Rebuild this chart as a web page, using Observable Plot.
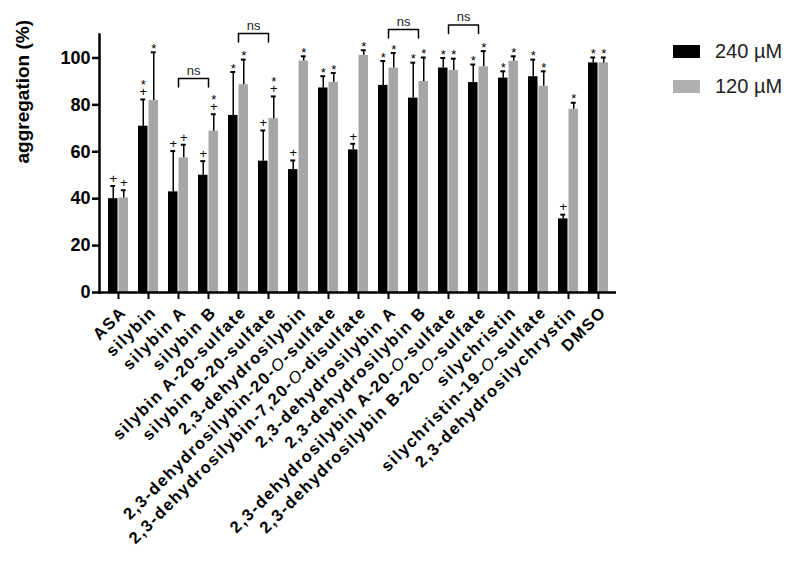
<!DOCTYPE html>
<html><head><meta charset="utf-8">
<script src="https://cdn.jsdelivr.net/npm/d3@7"></script>
<script src="https://cdn.jsdelivr.net/npm/@observablehq/plot@0.6"></script>
<style>
body{margin:0;background:#fff;}
#wrap{position:relative;width:798px;height:562px;font-family:"Liberation Sans",Arial,Helvetica,sans-serif;}
.legend{position:absolute;left:673px;top:41px;font-size:20px;color:#222;}
.item{display:flex;align-items:center;height:21px;margin-bottom:14px;}
.sw{width:27px;height:13px;margin-right:15px;}
</style></head><body><div id="wrap"></div>
<script>
const compounds = ["ASA","silybin","silybin A","silybin B","silybin A-20-sulfate","silybin B-20-sulfate",
  "2,3-dehydrosilybin","2,3-dehydrosilybin-20-O-sulfate","2,3-dehydrosilybin-7,20-O-disulfate",
  "2,3-dehydrosilybin A","2,3-dehydrosilybin B","2,3-dehydrosilybin A-20-O-sulfate",
  "2,3-dehydrosilybin B-20-O-sulfate","silychristin","silychristin-19-O-sulfate",
  "2,3-dehydrosilychrystin","DMSO"];
const series = ["240 µM","120 µM"];
const colors = ["#000000","#a6a6a8"];
const mean240 = [40.0,70.9,42.9,50.0,75.5,56.0,52.4,87.2,60.8,88.3,82.9,95.7,89.5,91.4,92.0,31.4,97.9];
const top240  = [45.4,82.3,60.3,56.0,94.0,69.1,56.3,92.2,63.4,98.7,98.0,100.0,97.2,94.3,99.3,33.2,100.2];
const sig240  = ["+","*+","+","+","*","+","+","*","+","*","*","*","*","*","*","+","*"];
const mean120 = [40.3,81.9,57.4,68.8,88.6,74.1,98.7,89.6,101.1,95.7,90.0,94.7,96.2,98.6,87.9,78.1,97.9];
const top120  = [43.6,102.4,63.0,76.0,99.3,83.6,100.7,93.6,103.3,102.1,100.2,99.7,102.9,100.7,94.3,80.9,100.2];
const sig120  = ["+","*","+","*+","*","*+","*","*","*","*","*","*","*","*","*","*","*"];
const yTicks = [0,20,40,60,80,100];
const bracketFrom = ["silybin A","silybin A-20-sulfate","2,3-dehydrosilybin A","2,3-dehydrosilybin A-20-O-sulfate"];
const bracketTo   = ["silybin B","silybin B-20-sulfate","2,3-dehydrosilybin B","2,3-dehydrosilybin B-20-O-sulfate"];
const bracketY    = [91.2,110.4,112.1,114.0];
const bracketLabel = "ns";
const yLabel = "aggregation (%)";

const rows = compounds.map((c,i)=>({compound:c, v240:mean240[i], e240:top240[i], s240:sig240[i],
  v120:mean120[i], e120:top120[i], s120:sig120[i]}));
const brackets = bracketFrom.map((f,i)=>({id:i, from:f, to:bracketTo[i], y:bracketY[i]}));
const bracketPts = brackets.flatMap(b=>[
  {id:b.id, x:b.from, y:b.y-3.6},{id:b.id, x:b.from, y:b.y},{id:b.id, x:b.to, y:b.y},{id:b.id, x:b.to, y:b.y-3.6}]);

// one row per significance symbol
const markers = [];
rows.forEach(r=>{
  [["s240","e240",-1],["s120","e120",1]].forEach(([sk,ek,side])=>{
    const s = r[sk];
    if (s.includes("+")) markers.push({compound:r.compound, y:r[ek], sym:"+", side, stacked:false});
    if (s.includes("*")) markers.push({compound:r.compound, y:r[ek], sym:"*", side, stacked:s.includes("+")});
  });
});

const D = 5.25;
const symMarks = [-1,1].flatMap(side=>[
  Plot.text(markers.filter(m=>m.side===side && m.sym==="+"),
    {x:"compound", y:"y", text:"sym", dx:side*D, dy:-3.2, lineAnchor:"bottom", fontSize:13, fill:"black"}),
  Plot.text(markers.filter(m=>m.side===side && m.sym==="*" && !m.stacked),
    {x:"compound", y:"y", text:"sym", dx:side*D, dy:0.6, lineAnchor:"bottom", fontSize:13, fill:"black"}),
  Plot.text(markers.filter(m=>m.side===side && m.sym==="*" && m.stacked),
    {x:"compound", y:"y", text:"sym", dx:side*D, dy:-10.1, lineAnchor:"bottom", fontSize:13, fill:"black"})
]);

const chart = Plot.plot({
  width:798, height:562, marginLeft:99, marginRight:182, marginTop:34, marginBottom:270,
  style:{fontFamily:"'Liberation Sans', Arial, Helvetica, sans-serif", background:"white", color:"black", overflow:"visible"},
  x:{domain:compounds, paddingInner:0.34, paddingOuter:0.16},
  y:{domain:[0,110]},
  marks:[
    Plot.barY(rows,{x:"compound", y:"v240", fill:colors[0], insetRight:10.5}),
    Plot.barY(rows,{x:"compound", y:"v120", fill:colors[1], insetLeft:10.5}),
    Plot.ruleX(rows,{x:"compound", y1:"v240", y2:"e240", dx:-D, stroke:"black", strokeWidth:1.5}),
    Plot.ruleX(rows,{x:"compound", y1:"v120", y2:"e120", dx:D, stroke:"black", strokeWidth:1.5}),
    Plot.tickY(rows,{x:"compound", y:"e240", insetLeft:2.3, insetRight:12.8, stroke:"black", strokeWidth:2}),
    Plot.tickY(rows,{x:"compound", y:"e120", insetLeft:12.8, insetRight:2.3, stroke:"black", strokeWidth:2}),
    ...symMarks,
    Plot.line(bracketPts,{x:"x", y:"y", z:"id", stroke:"black", strokeWidth:1.5, curve:"linear"}),
    Plot.text(brackets,{x:"from", y:"y", text:()=>bracketLabel, dx:15.2, dy:-4, lineAnchor:"bottom", fontSize:13, fill:"#222"}),
    Plot.ruleY([0],{stroke:"black", strokeWidth:2.5}),
    Plot.axisX({tickSize:7, tickFormat:()=>"", label:null, strokeWidth:2}),
    Plot.axisX({tickRotate:-45, tickSize:0, tickPadding:17, dx:5, fontSize:16.5, fontWeight:"bold", label:null}),
    Plot.axisY({ticks:yTicks, tickSize:7, tickPadding:2, fontSize:18, fontWeight:"bold", label:null, strokeWidth:2.5}),
    Plot.frame({anchor:"left", stroke:"black", strokeWidth:2.5}),
    Plot.text([yLabel],{frameAnchor:"left", rotate:-90, dx:-77, fontSize:19, fontWeight:"bold", fill:"black"})
  ]
});

const NS = "http://www.w3.org/2000/svg";
chart.querySelectorAll('g[aria-label="x-axis tick label"] text').forEach(t=>{
  const s = t.textContent;
  if (s === "") return;
  t.setAttribute("letter-spacing","1.5");
  if (!s.includes("-O-")) return;
  const [a,b] = s.split("-O-");
  t.textContent = "";
  t.append(a+"-");
  const ts = document.createElementNS(NS,"tspan");
  ts.setAttribute("font-style","italic");
  ts.setAttribute("font-weight","normal");
  ts.textContent = "O";
  t.append(ts);
  t.append("-"+b);
});

const wrap = document.getElementById("wrap");
wrap.append(chart);
const legend = document.createElement("div");
legend.className = "legend";
series.forEach((s,i)=>{
  const it = document.createElement("div"); it.className="item";
  const sw = document.createElement("div"); sw.className="sw"; sw.style.background = i===1 ? "#b0b0b2" : colors[i];
  const lb = document.createElement("span"); lb.textContent = s;
  it.append(sw, lb); legend.append(it);
});
wrap.append(legend);
</script>
</body></html>
